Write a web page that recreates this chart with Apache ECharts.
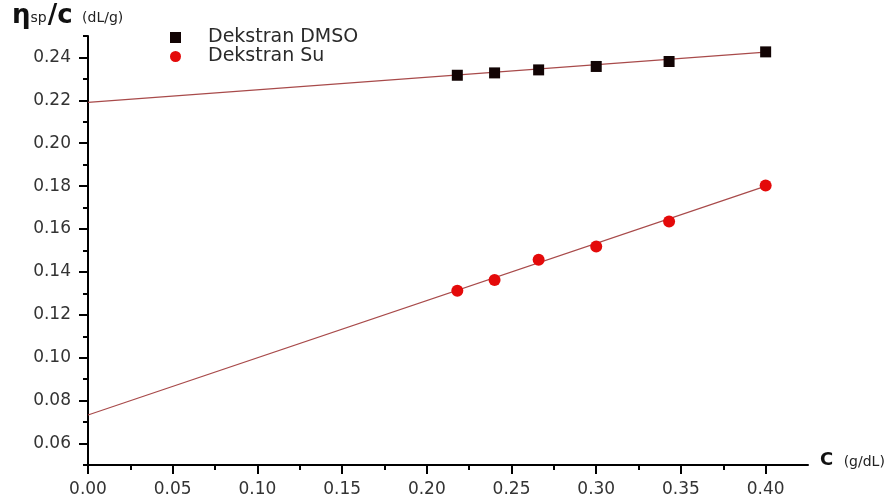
<!DOCTYPE html>
<html>
<head>
<meta charset="utf-8">
<script src="https://cdn.jsdelivr.net/npm/echarts@6/dist/echarts.min.js"></script>
<style>html,body{margin:0;padding:0;background:#fff}#c{width:889px;height:504px}</style>
</head>
<body>
<div id="c"></div>
<script>
// Data
const concentrations = [0.218, 0.240, 0.266, 0.300, 0.343, 0.400];
const dmsoValues = [0.2317, 0.2328, 0.2342, 0.2358, 0.2381, 0.2426];
const suValues = [0.1312, 0.1363, 0.1457, 0.1519, 0.1635, 0.1803];
const dmsoFitX = [0, 0.400];
const dmsoFitY = [0.2191, 0.2425];
const suFitX = [0, 0.400];
const suFitY = [0.0733, 0.1800];
const seriesNames = ['Dekstran DMSO', 'Dekstran Su'];
const xMajorTicks = [0, 0.05, 0.10, 0.15, 0.20, 0.25, 0.30, 0.35, 0.40];
const xMinorTicks = [0.025, 0.075, 0.125, 0.175, 0.225, 0.275, 0.325, 0.375];
const yMajorTicks = [0.06, 0.08, 0.10, 0.12, 0.14, 0.16, 0.18, 0.20, 0.22, 0.24];
const yMinorTicks = [0.05, 0.07, 0.09, 0.11, 0.13, 0.15, 0.17, 0.19, 0.21, 0.23, 0.25];

const zip = (xs, ys) => xs.map((x, i) => [x, ys[i]]);
const font = '"DejaVu Sans", sans-serif';

const chart = echarts.init(document.getElementById('c'), null, {renderer: 'canvas'});
const xBase = {type: 'value', min: 0, max: 0.425, interval: 0.025, splitLine: {show: false}, gridIndex: 0};
const yBase = {type: 'value', min: 0.05, max: 0.25, interval: 0.01, splitLine: {show: false}, gridIndex: 0};
chart.setOption({
  animation: false,
  backgroundColor: '#fff',
  grid: {left: 88, right: 81, top: 36, bottom: 39},
  legend: {
    data: [{name: seriesNames[0], icon: 'rect'}, {name: seriesNames[1], icon: 'circle'}],
    orient: 'vertical', left: 165, top: 23, itemWidth: 11, itemHeight: 11, itemGap: 0,
    textStyle: {fontFamily: font, fontSize: 19, lineHeight: 18, color: '#2a2a2a', padding: [0, 0, 0, 22]}
  },
  xAxis: [
    Object.assign({}, xBase, {
      axisLine: {lineStyle: {color: '#000', width: 2}},
      axisTick: {customValues: xMajorTicks, length: 9, lineStyle: {color: '#000', width: 2}},
      axisLabel: {customValues: xMajorTicks, margin: 16, fontFamily: font, fontSize: 17, color: '#333',
        formatter: v => v.toFixed(2)}
    }),
    Object.assign({}, xBase, {
      position: 'bottom',
      axisLine: {show: false},
      axisTick: {customValues: xMinorTicks, length: 5, lineStyle: {color: '#000', width: 2}},
      axisLabel: {show: false}
    })
  ],
  yAxis: [
    Object.assign({}, yBase, {
      axisLine: {show: true, lineStyle: {color: '#000', width: 2}},
      axisTick: {show: true, customValues: yMajorTicks, length: 9, lineStyle: {color: '#000', width: 2}},
      axisLabel: {customValues: yMajorTicks, margin: 17, fontFamily: font, fontSize: 17, color: '#333',
        formatter: v => v.toFixed(2)}
    }),
    Object.assign({}, yBase, {
      position: 'left',
      axisLine: {show: false},
      axisTick: {show: true, customValues: yMinorTicks, length: 5, lineStyle: {color: '#000', width: 2}},
      axisLabel: {show: false}
    })
  ],
  series: [
    {name: 'fitDMSO', type: 'line', data: zip(dmsoFitX, dmsoFitY), showSymbol: false, silent: true,
      lineStyle: {color: '#a84a4a', width: 1.2}, z: 1},
    {name: 'fitSu', type: 'line', data: zip(suFitX, suFitY), showSymbol: false, silent: true,
      lineStyle: {color: '#a84a4a', width: 1.2}, z: 1},
    {name: seriesNames[0], type: 'scatter', data: zip(concentrations, dmsoValues), symbol: 'rect',
      symbolSize: 11, itemStyle: {color: '#120404', opacity: 1}, z: 3},
    {name: seriesNames[1], type: 'scatter', data: zip(concentrations, suValues), symbol: 'circle',
      symbolSize: 12, itemStyle: {color: '#e40a0a', opacity: 1}, z: 3}
  ],
  graphic: [
    {type: 'text', left: 12, top: 3, style: {
      text: '{a|η}{b|sp}{d|/c}{c| (dL/g)}',
      rich: {
        a: {fontFamily: font, fontSize: 26, fontWeight: 'bold', fill: '#111', verticalAlign: 'bottom'},
        b: {fontFamily: font, fontSize: 14, fill: '#222', verticalAlign: 'bottom', padding: [0, 1, 4, 0]},
        d: {fontFamily: font, fontSize: 26, fontWeight: 'bold', fill: '#111', verticalAlign: 'bottom'},
        c: {fontFamily: font, fontSize: 14, fill: '#222', verticalAlign: 'bottom', padding: [0, 0, 4, 5]}
      }}},
    {type: 'text', left: 820, top: 451, style: {
      text: '{a|C}{c| (g/dL)}',
      rich: {
        a: {fontFamily: font, fontSize: 18, fontWeight: 'bold', fill: '#111', verticalAlign: 'bottom'},
        c: {fontFamily: font, fontSize: 14, fill: '#222', verticalAlign: 'bottom', padding: [0, 0, 0, 6]}
      }}}
  ]
});
</script>
</body>
</html>
